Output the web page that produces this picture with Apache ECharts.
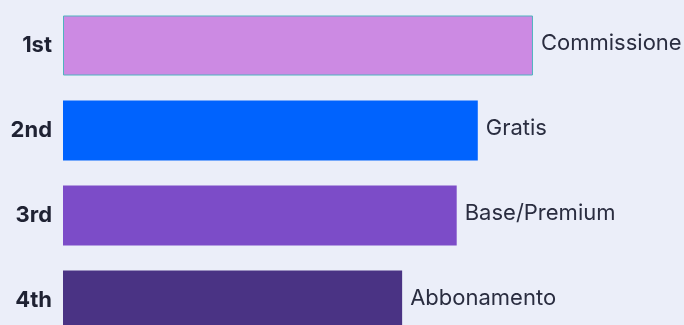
<!DOCTYPE html>
<html><head><meta charset="utf-8">
<script src="https://cdn.jsdelivr.net/npm/echarts@6/dist/echarts.min.js"></script>
<style>html,body{margin:0;padding:0;background:#ebeef9}#c{width:684px;height:325px}</style>
</head><body><div id="c"></div>
<script>
const ranks = ['1st', '2nd', '3rd', '4th'];
const models = ['Commissione', 'Gratis', 'Base/Premium', 'Abbonamento'];
const scores = [75.8, 66.9, 63.5, 54.7];
const colors = ['#cc8ae3', '#0063fe', '#7c4cc8', '#4a3384'];

const chart = echarts.init(document.getElementById('c'));
chart.setOption({
  backgroundColor: '#ebeef9',
  animation: false,
  grid: { left: 63, top: 3, width: 620, height: 340, containLabel: false, outerBoundsMode: 'none' },
  xAxis: { type: 'value', min: 0, max: 100, show: false },
  yAxis: {
    type: 'category', data: ranks, inverse: true,
    axisLine: { show: false }, axisTick: { show: false }, splitLine: { show: false },
    axisLabel: { color: '#1f2233', fontFamily: 'Inter', fontWeight: 'bold', fontSize: 22, margin: 11 }
  },
  series: [{
    type: 'bar',
    barWidth: 60,
    data: scores.map((v, i) => ({
      value: v,
      name: models[i],
      itemStyle: i === 0 ? { color: colors[i], borderColor: '#4fb3bf', borderWidth: 1 } : { color: colors[i] }
    })),
    label: {
      show: true, position: 'right', distance: 8, offset: [0, -2],
      formatter: p => p.name,
      color: '#2a2d40', fontFamily: 'Inter', fontSize: 22
    }
  }]
});
</script></body></html>
